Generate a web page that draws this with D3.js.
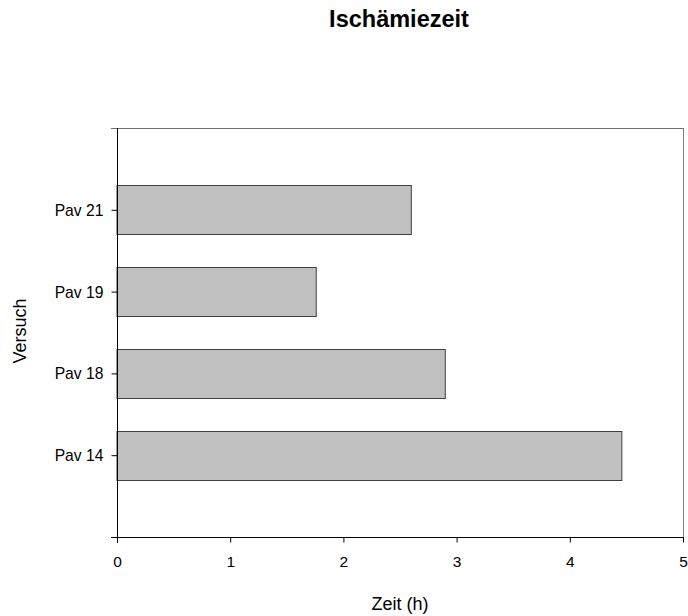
<!DOCTYPE html>
<html><head><meta charset="utf-8">
<script src="https://cdn.jsdelivr.net/npm/d3@7"></script>
<style>body{margin:0;background:#fff}svg{display:block}text{font-family:Arial,"Liberation Sans",sans-serif}</style>
</head><body><svg id="c" width="688" height="616"></svg>
<script>
const categories = ["Pav 21", "Pav 19", "Pav 18", "Pav 14"];
const values = [2.60, 1.76, 2.90, 4.46];
const xTicks = [0, 1, 2, 3, 4, 5];
const title = "Ischämiezeit";
const xTitle = "Zeit (h)";
const yTitle = "Versuch";

const svg = d3.select("#c");
const L = 117, R = 683, T = 128, B = 537;
const x = d3.scaleLinear().domain([0, 5]).range([L, R]);
const y = d3.scaleLinear().domain([0, 5]).range([T, B]);
const barH = 49;
const FONT = "Arial, 'Liberation Sans', sans-serif";

// frame top and right
svg.append("line").attr("x1", 111).attr("x2", R).attr("y1", T + 0.5).attr("y2", T + 0.5).attr("stroke", "#707070");
svg.append("line").attr("x1", R + 0.5).attr("x2", R + 0.5).attr("y1", T).attr("y2", B).attr("stroke", "#808080");

svg.selectAll("rect.bar").data(categories).enter().append("rect")
  .attr("class", "bar")
  .attr("x", x(0))
  .attr("y", (d, i) => Math.round(y(i + 1) - barH / 2) + 0.5)
  .attr("width", (d, i) => x(values[i]) - x(0))
  .attr("height", barH)
  .attr("fill", "#c0c0c0")
  .attr("stroke", "#404040")
  .attr("stroke-width", 1);

// x axis
const xa = svg.append("g").attr("transform", `translate(0,${B + 0.5})`)
  .call(d3.axisBottom(x).tickValues(xTicks).tickFormat(d3.format("d")).tickSize(5).tickSizeOuter(0));
xa.select(".domain").attr("d", `M111,0H${R + 1}`);
xa.selectAll("text").attr("font-size", 15.5).attr("fill", "#000").attr("y", 0).attr("dy", 0)
  .attr("transform", "translate(0,29.5)").attr("font-family", FONT);

// y axis
const ya = svg.append("g").attr("transform", `translate(${L + 0.5},0)`)
  .call(d3.axisLeft(y).tickValues([1, 2, 3, 4]).tickFormat((d) => categories[d - 1]).tickSize(6).tickSizeOuter(0));
ya.select(".domain").attr("d", `M0,${T}V${B + 6}`);
ya.selectAll("text").attr("font-size", 15.7).attr("fill", "#000").attr("x", -14).attr("dy", "0.35em").attr("font-family", FONT);

svg.append("text").attr("x", 399).attr("y", 27).attr("text-anchor", "middle")
  .attr("font-size", 23.5).attr("font-weight", "bold").text(title);
svg.append("text").attr("x", 400).attr("y", 610).attr("text-anchor", "middle")
  .attr("font-size", 18).text(xTitle);
svg.append("text").attr("transform", "translate(26,331) rotate(-90)").attr("text-anchor", "middle")
  .attr("font-size", 18).text(yTitle);
</script></body></html>
